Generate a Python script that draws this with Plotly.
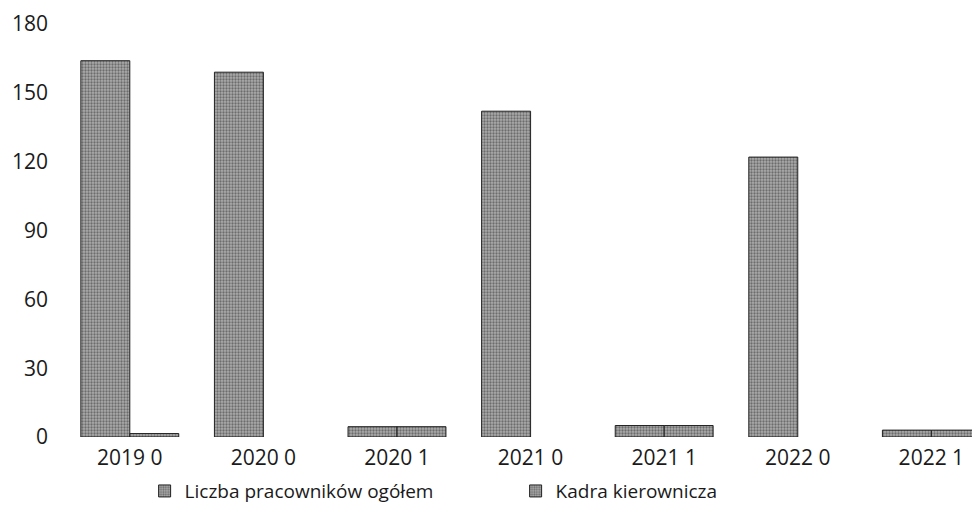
import plotly.graph_objects as go

categories = ["2019 0", "2020 0", "2020 1", "2021 0", "2021 1", "2022 0", "2022 1"]
liczba_pracownikow = [164, 159, 4.5, 142, 5, 122, 3]
kadra_kierownicza = [1.5, None, 4.5, None, 5, None, 3]
y_ticks = [0, 30, 60, 90, 120, 150, 180]

FONT = "Open Sans"
TXT = "#1a1a1a"

def marker():
    return dict(
        color="#8e8e8e",
        pattern=dict(shape=".", fgcolor="#2e2e2e", bgcolor="#ababab", size=3, solidity=0.45),
        line=dict(color="#222222", width=1),
    )

fig = go.Figure()
fig.add_trace(go.Bar(name="Liczba pracowników ogółem", x=categories, y=liczba_pracownikow, marker=marker()))
fig.add_trace(go.Bar(name="Kadra kierownicza", x=categories, y=kadra_kierownicza, marker=marker()))

fig.update_layout(
    width=972, height=510,
    margin=dict(l=55, r=0, t=16, b=81),
    paper_bgcolor="white", plot_bgcolor="white",
    barmode="group", bargap=0.267, bargroupgap=0,
    font=dict(family=FONT, size=21, color=TXT),
    showlegend=True,
    legend=dict(orientation="h", x=0.089, xanchor="left", y=-0.131, yanchor="middle",
                font=dict(family=FONT, size=19, color=TXT), entrywidth=326,
                itemwidth=30, bgcolor="rgba(0,0,0,0)"),
    xaxis=dict(type="category", range=[-0.5, 6.364], showgrid=False, showline=False,
               zeroline=False, ticks="", ticklabelstandoff=6, tickfont=dict(size=21)),
    yaxis=dict(range=[0, 180], tickvals=y_ticks, showgrid=False, showline=False,
               zeroline=False, ticks="", ticklabelstandoff=14, tickfont=dict(size=21)),
)

fig.write_html("out.html")
